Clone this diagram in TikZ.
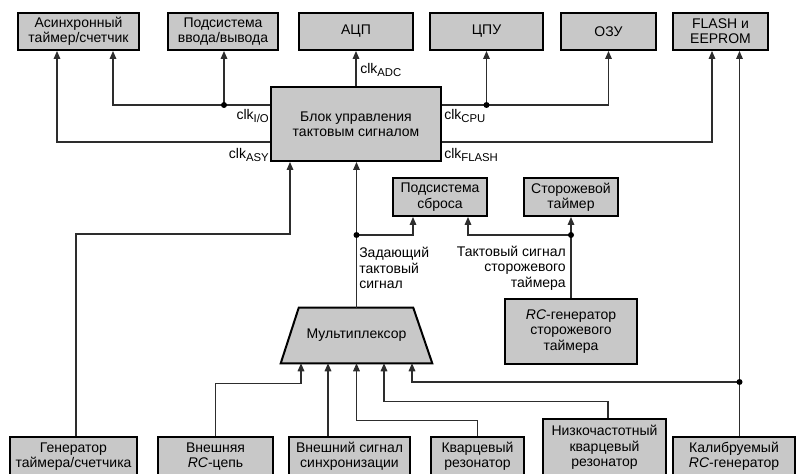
\documentclass[tikz,border=0pt]{standalone}
\usepackage{fontspec}
\setmainfont{Liberation Sans}
\usetikzlibrary{arrows.meta,calc}
\definecolor{boxgray}{RGB}{200,200,200}
\definecolor{linegray}{RGB}{45,45,45}
\newcommand\dfont{\fontsize{10.5}{11.5}\selectfont}
\newcommand\lsub[1]{\raisebox{-0.45ex}{\fontsize{8.5}{9}\selectfont #1}}
\begin{document}
\begin{tikzpicture}[x=0.75pt,y=-0.75pt,
  box/.style={draw=black,line width=1.5pt,fill=boxgray,inner sep=0pt,align=center,font=\dfont},
  sz/.style 2 args={minimum width={#1*0.75pt},minimum height={#2*0.75pt}},
  boxline/.style={draw=black,line width=1.5pt,fill=boxgray,line join=miter},
  ln/.style={draw=linegray,line width=0.8pt},
  arr/.style={ln,-{Triangle[length=6pt,width=5pt]}},
  dot/.style={circle,fill=black,inner sep=0pt,minimum size=4.5pt},
  lbl/.style={inner sep=0pt,font=\dfont}]
\useasboundingbox (0,0) rectangle (800,474);
\fill[white] (0,0) rectangle (800,474);
% top row
\node[box,sz={121}{37}] (asy) at (78.5,31.5) {Асинхронный\\таймер/счетчик};
\node[box,sz={110}{37}] (io) at (223,31.5) {Подсистема\\ввода/вывода};
\node[box,sz={114}{37}] (adc) at (356,31.5) {АЦП};
\node[box,sz={113}{37}] (cpu) at (486.5,31.5) {ЦПУ};
\node[box,sz={95}{37}] (ram) at (608.5,31.5) {ОЗУ};
\node[box,sz={95}{37}] (flash) at (720.5,31.5) {FLASH и\\EEPROM};
% middle
\node[box,sz={170}{74}] (block) at (356,124) {Блок управления\\тактовым сигналом};
\node[box,sz={94}{38}] (reset) at (440,197) {Подсистема\\сброса};
\node[box,sz={94}{38}] (wdt) at (571,197) {Сторожевой\\таймер};
\node[box,sz={132}{65}] (rcwdt) at (571,331.5) {\textit{RC}-генератор\\сторожевого\\таймера};
% multiplexer
\node[inner sep=0pt,sz={151}{55}] (mux) at (356.5,335.5) {};
\draw[boxline] (mux.south west) -- ($(mux.north west)+(18,0)$) -- ($(mux.north east)+(-19,0)$) -- (mux.south east) -- cycle;
\node[lbl] (muxtext) at (mux.center) {Мультиплексор};
% bottom row
\node[box,sz={127}{39}] (gen) at (73.5,456.5) {Генератор\\таймера/счетчика};
\node[box,sz={115}{39}] (rcext) at (215.5,456.5) {Внешняя\\\textit{RC}-цепь};
\node[box,sz={121}{39}] (extclk) at (349.5,456.5) {Внешний сигнал\\синхронизации};
\node[box,sz={93}{39}] (xtal) at (477.5,456.5) {Кварцевый\\резонатор};
\node[box,sz={123}{57}] (lfxtal) at (604.5,447.5) {Низкочастотный\\кварцевый\\резонатор};
\node[box,sz={122}{39}] (calrc) at (734,456.5) {Калибруемый\\\textit{RC}-генератор};
% clock outputs
\coordinate (asyOut) at ($(block.west)+(0,18)$);
\draw[arr] (asyOut) -| ($(asy.south)+(-21.5,0)$);
\coordinate (ioOut) at ($(block.west)+(0,-19)$);
\draw[arr] (ioOut) -| ($(asy.south)+(34.5,0)$);
\coordinate (ioDot) at ($(ioOut)+(-46,0)$);
\draw[arr] (ioDot) -- (ioDot |- io.south);
\draw[arr] (block.north) -- (adc.south);
\coordinate (cpuOut) at ($(block.east)+(0,-19)$);
\draw[arr] (cpuOut) -| (ram.south);
\coordinate (cpuDot) at (cpuOut -| cpu.south);
\draw[arr] (cpuDot) -- (cpu.south);
\coordinate (flOut) at ($(block.east)+(0,18)$);
\draw[arr] (flOut) -| ($(flash.south)+(-8.5,0)$);
\draw[arr] ($(calrc.north)+(5.5,0)$) -- ($(flash.south)+(19,0)$);
\coordinate (calDot) at ($(calrc.north)+(5.5,-54)$);
\draw[arr] (calDot) -| ($(mux.south)+(55.5,0)$);
% inputs to block
\draw[arr] ($(gen.north)+(2.5,0)$) |- ($(block.south)+(-66,72)$) -- ($(block.south)+(-66,0)$);
\draw[arr] (mux.north) -- (mux.north |- block.south);
\coordinate (mDot) at ($(block.south)+(0.5,73)$);
\draw[arr] (mDot) -| ($(reset.south)+(-27,0)$);
\coordinate (wDot) at (rcwdt.north |- mDot);
\draw[arr] (rcwdt.north) -- (wdt.south);
\draw[arr] (wDot) -| ($(reset.south)+(28,0)$);
% inputs to multiplexer
\draw[arr] (rcext.north) |- ($(mux.south)+(-55.5,20)$) -- ($(mux.south)+(-55.5,0)$);
\draw[arr] ($(extclk.north)+(-21.5,0)$) -- ($(mux.south)+(-28.5,0)$);
\draw[arr] (xtal.north) |- ($(mux.south)+(0,57)$) -- (mux.south);
\draw[arr] ($(lfxtal.north)+(3.5,0)$) |- ($(mux.south)+(27.5,38)$) -- ($(mux.south)+(27.5,0)$);
% dots
\node[dot] (d1) at (ioDot) {};
\node[dot] (d2) at (cpuDot) {};
\node[dot] (d3) at (mDot) {};
\node[dot] (d4) at (wDot) {};
\node[dot] (d5) at (calDot) {};
% labels
\node[lbl,anchor=west] (lADC) at (360,70) {clk\lsub{ADC}};
\node[lbl,anchor=east] (lIO) at (269,116) {clk\lsub{I/O}};
\node[lbl,anchor=east] (lASY) at (269,155) {clk\lsub{ASY}};
\node[lbl,anchor=west] (lCPU) at (444,116) {clk\lsub{CPU}};
\node[lbl,anchor=west] (lFL) at (444,155) {clk\lsub{FLASH}};
\node[lbl,anchor=west,align=left] (lMain) at (359,268) {Задающий\\тактовый\\сигнал};
\node[lbl,anchor=east,align=right] (lWdt) at (566,268) {Тактовый сигнал\\сторожевого\\таймера};
\end{tikzpicture}
\end{document}
